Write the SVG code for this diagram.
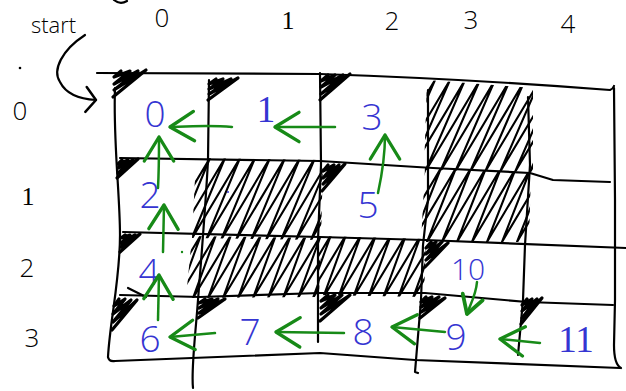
<svg xmlns="http://www.w3.org/2000/svg" width="626" height="391" viewBox="0 0 626 391">
<style>
.ink{fill:none;stroke:#000;stroke-width:2.2;stroke-linecap:round;stroke-linejoin:round}
.hatch{fill:none;stroke:#000;stroke-width:2.1;stroke-linejoin:round;stroke-linecap:round}
.wedge{fill:none;stroke:#000;stroke-width:3.2;stroke-linejoin:round;stroke-linecap:round}
.lbl{font-family:"Open Sans","Liberation Sans",sans-serif;font-weight:300;font-size:26px;fill:#000;text-anchor:middle}
.num{font-family:"Open Sans","Liberation Sans",sans-serif;font-weight:300;font-size:37px;fill:#3535d2;text-anchor:middle}
.serif{font-family:"Liberation Serif","DejaVu Serif",serif;font-weight:normal}
.edge{fill:none;stroke:#178a17;stroke-width:2.5;stroke-linecap:round;marker-end:url(#ah)}
</style>
<defs>
<marker id="ah" markerUnits="userSpaceOnUse" markerWidth="40" markerHeight="40" refX="0" refY="0" viewBox="-22 -15 26 30" orient="auto" overflow="visible">
<path d="M-18,-11 L0,0 L-18,11" fill="none" stroke="#178a17" stroke-width="2.5" stroke-linecap="round" stroke-linejoin="round"/>
</marker>
<marker id="ahs" markerUnits="userSpaceOnUse" markerWidth="30" markerHeight="30" refX="0" refY="0" viewBox="-16 -10 20 20" orient="auto" overflow="visible">
<path d="M-12,-7 L0,0 L-12,7" fill="none" stroke="#178a17" stroke-width="2.5" stroke-linecap="round" stroke-linejoin="round"/>
</marker>
<marker id="ahk" markerUnits="userSpaceOnUse" markerWidth="30" markerHeight="30" refX="0" refY="0" viewBox="-12 -12 16 24" orient="auto" overflow="visible">
<path d="M-8,-10 L0,0 L-8,10" fill="none" stroke="#000" stroke-width="2" stroke-linecap="round" stroke-linejoin="round"/>
</marker>
<clipPath id="cA"><polygon points="427,80 533,88 533,172 424,170"/></clipPath>
<clipPath id="cB"><polygon points="425,168 531,172 529,242 421,242"/></clipPath>
<clipPath id="cC"><polygon points="196,158 323,160 321,240 192,238"/></clipPath>
<clipPath id="cD"><polygon points="192,236 321,238 319,297 186,298"/></clipPath>
<clipPath id="cE"><polygon points="318,236 426,239 424,297 317,295"/></clipPath>
</defs>

<g id="hatching">
<path class="hatch" clip-path="url(#cA)" d="M380,172 l55,-92 l-40,92 l55,-92 l-40,92 l55,-92 l-40,92 l55,-92 l-40,92 l55,-92 l-40,92 l55,-92 l-40,92 l55,-92 l-40,92 l55,-92 l-40,92 l55,-92 l-40,92 l55,-92 l-40,92 l55,-92 l-40,92"/>
<path class="hatch" clip-path="url(#cB)" d="M382,242 l44,-74 l-29,74 l44,-74 l-29,74 l44,-74 l-29,74 l44,-74 l-29,74 l44,-74 l-29,74 l44,-74 l-29,74 l44,-74 l-29,74 l44,-74 l-29,74 l44,-74 l-29,74 l44,-74 l-29,74 l44,-74 l-29,74"/>
<path class="hatch" clip-path="url(#cC)" d="M146,240 l49,-82 l-34,82 l49,-82 l-34,82 l49,-82 l-34,82 l49,-82 l-34,82 l49,-82 l-34,82 l49,-82 l-34,82 l49,-82 l-34,82 l49,-82 l-34,82 l49,-82 l-34,82 l49,-82 l-34,82 l49,-82 l-34,82 l49,-82 l-34,82 l49,-82 l-34,82"/>
<path class="hatch" clip-path="url(#cD)" d="M148,298 l38,-63 l-23,63 l38,-63 l-23,63 l38,-63 l-23,63 l38,-63 l-23,63 l38,-63 l-23,63 l38,-63 l-23,63 l38,-63 l-23,63 l38,-63 l-23,63 l38,-63 l-23,63 l38,-63 l-23,63 l38,-63 l-23,63 l38,-63 l-23,63"/>
<path class="hatch" clip-path="url(#cE)" d="M278,298 l38,-63 l-23,63 l38,-63 l-23,63 l38,-63 l-23,63 l38,-63 l-23,63 l38,-63 l-23,63 l38,-63 l-23,63 l38,-63 l-23,63 l38,-63 l-23,63 l38,-63 l-23,63 l38,-63 l-23,63 l38,-63 l-23,63"/>
</g>

<g id="grid">
<path class="ink" d="M97,73 L320,74 Q470,79 610,90 Q613,89 614,86"/>
<path class="ink" d="M120,158 L320,161 L433,168 L530,173 L553,180 L610,182"/>
<path class="ink" d="M123,232 L320,237 L425,240 L626,248"/>
<path class="ink" d="M120,295 L200,297 L320,293 L425,293 L527,302 L613,305"/>
<path class="ink" d="M108,357 Q109,362 115,361 L320,353 L415,360 L620,368"/>
<path class="ink" d="M115,88 C113,140 120,195 120,235 C120,280 110,320 108,357"/>
<path class="ink" d="M209,80 L208,160 C206,200 202,250 198,300 C195,340 191,370 193,388"/>
<path class="ink" d="M320,73 L321,165 L318,240 L318,342"/>
<path class="ink" d="M428,90 L428,200 L423,245 L421,300 L415,372 L418,373"/>
<path class="ink" d="M528,97 L530,165 L525,245 L523,300 L518,355"/>
<path class="ink" d="M614,88 L615,200 L615,300 L614,345 C614,360 617,366 621,368"/>
<path class="ink" d="M128,288 L146,297"/>
</g>

<g id="corners">
<path class="wedge" d="M113,97 L146,70 L114,90 L138,71 L114,84 L130,71 L114,77 L121,71"/>
<path class="wedge" d="M208,100 L238,78 L209,94 L231,79 L209,89 L223,79 L209,84 L216,79"/>
<path class="wedge" d="M320,100 L350,74 L321,94 L343,75 L321,87 L335,75 L321,81 L328,75"/>
<path class="wedge" d="M117,178 L138,159 L118,173 L133,160 L118,168 L128,160 L118,164 L122,160"/>
<path class="wedge" d="M322,191 L345,164 L323,184 L339,165 L323,178 L334,165 L323,171 L328,165"/>
<path class="wedge" d="M120,252 L140,234 L121,247 L135,235 L121,243 L130,235 L121,238 L125,235"/>
<path class="wedge" d="M112,330 L137,300 L113,322 L131,300 L113,314 L125,299 L114,306 L119,299"/>
<path class="wedge" d="M198,318 L225,299 L199,313 L218,299 L199,308 L212,299 L199,303 L205,299"/>
<path class="wedge" d="M320,321 L350,295 L321,314 L342,295 L321,308 L335,295 L321,301 L328,295"/>
<path class="wedge" d="M425,267 L448,243 L426,260 L442,242 L426,254 L436,242 L426,248 L431,242"/>
<path class="wedge" d="M420,318 L445,298 L421,312 L439,297 L421,307 L432,297 L421,302 L426,297"/>
<path class="wedge" d="M521,324 L542,298 L522,318 L537,299 L522,311 L532,299 L522,305 L527,299"/>
</g>

<g id="labels">
<text class="lbl" x="162" y="27">0</text>
<text class="lbl serif" x="288" y="29">1</text>
<text class="lbl" x="392" y="30">2</text>
<text class="lbl" x="471" y="29">3</text>
<text class="lbl" x="568" y="33">4</text>
<text class="lbl" x="20" y="120">0</text>
<text class="lbl serif" x="28" y="205">1</text>
<text class="lbl" x="27" y="277">2</text>
<text class="lbl" x="32" y="347">3</text>
<text x="31" y="33" style="font-family:'Open Sans','Liberation Sans',sans-serif;font-weight:300;font-size:22px;fill:#000">start</text>
<circle cx="20" cy="68" r="1.3" fill="#000"/>
<path class="ink" d="M114,0 Q120,5 127,1"/>
<path class="ink" d="M85,35 C62,50 52,70 60,82 C66,94 78,99 96,100" marker-end="url(#ahk)"/>
<circle cx="228" cy="192" r="1" fill="#3535d2"/>
<circle cx="182" cy="252" r="1.2" fill="#178a17"/>
</g>

<g id="nodes">
<g id="n0"><text class="num" x="155" y="127">0</text></g>
<g id="n1"><text class="num serif" x="266" y="122">1</text></g>
<g id="n3"><text class="num" x="372" y="130">3</text></g>
<g id="n2"><text class="num" x="150" y="208">2</text></g>
<g id="n5"><text class="num" x="368" y="218">5</text></g>
<g id="n4"><text class="num" x="149" y="285">4</text></g>
<g id="n10"><text class="num" x="468" y="280" style="font-size:30px">10</text></g>
<g id="n6"><text class="num" x="150" y="352">6</text></g>
<g id="n7"><text class="num" x="250" y="345">7</text></g>
<g id="n8"><text class="num" x="363" y="345">8</text></g>
<g id="n9"><text class="num" x="456" y="350">9</text></g>
<g id="n11"><text class="num serif" x="576" y="352">11</text></g>
</g>

<g id="connectors">
<path class="edge" d="M232,127 C210,125 195,126 170,127"/>
<path class="edge" d="M335,127 L275,127"/>
<path class="edge" d="M378,193 C383,170 385,155 385,135"/>
<path class="edge" d="M158,188 C159,170 159,155 159,137"/>
<path class="edge" d="M163,252 L164,205"/>
<path class="edge" d="M158,320 L159,275"/>
<path class="edge" d="M215,333 L170,337"/>
<path class="edge" d="M344,333 L276,332"/>
<path class="edge" d="M445,332 L392,327"/>
<path class="edge" d="M477,282 C476,295 470,305 467,314" style="marker-end:url(#ahs)"/>
<path class="edge" d="M540,343 L500,339"/>
</g>
</svg>
